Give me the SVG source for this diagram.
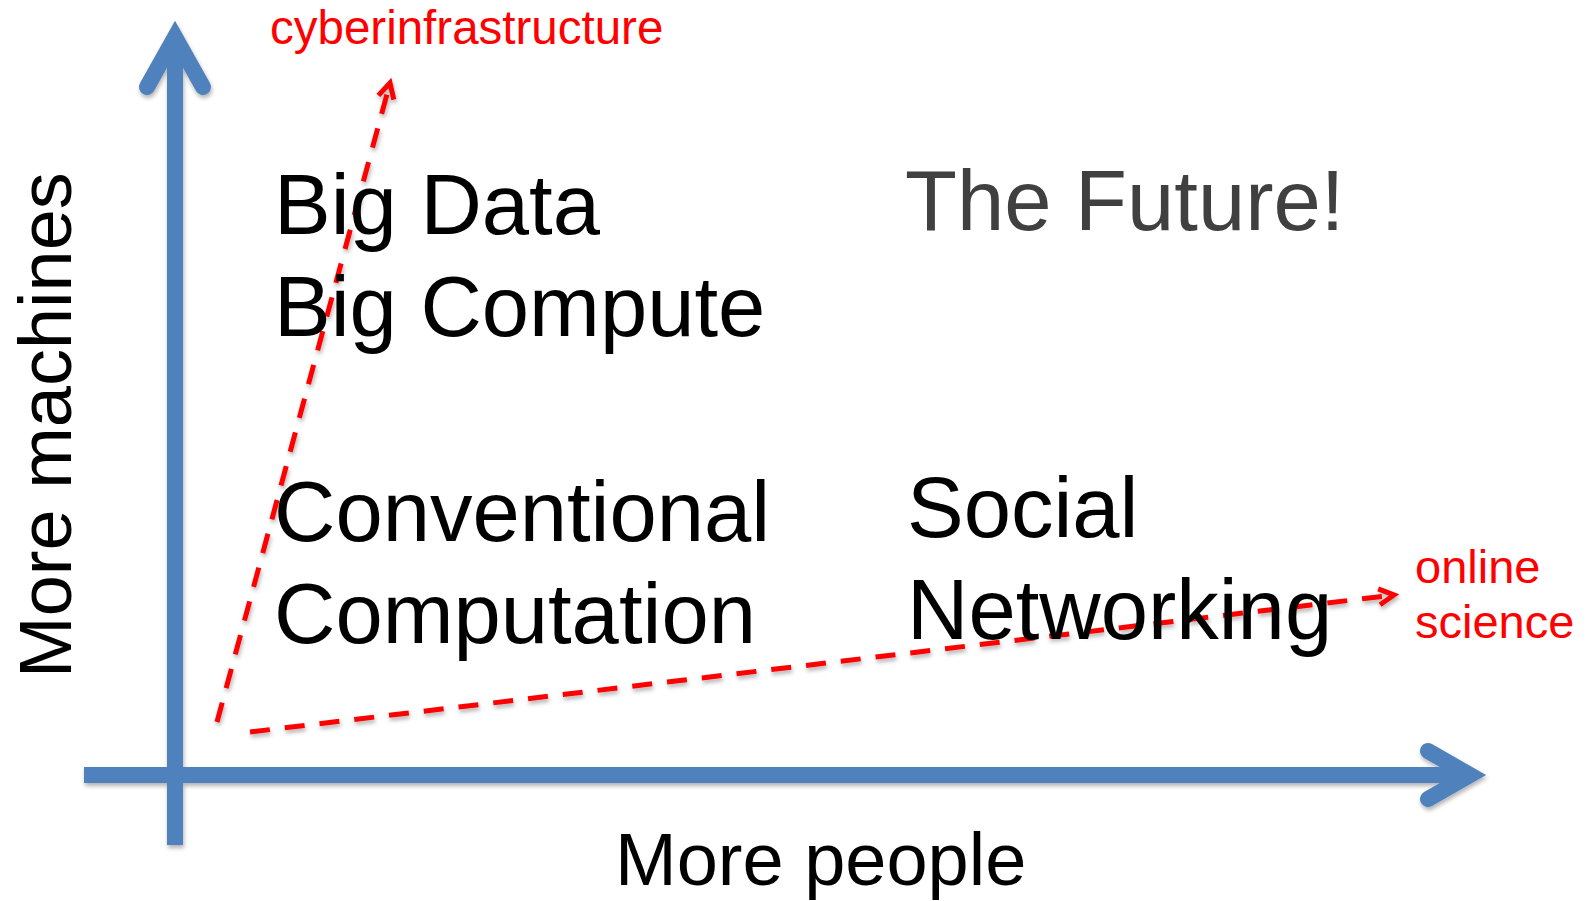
<svg xmlns="http://www.w3.org/2000/svg" width="1595" height="901" viewBox="0 0 1595 901">
<style>
.lbl{font-family:"Liberation Sans",Arial,sans-serif;font-size:85px;fill:#000}
.red{font-family:"Liberation Sans",Arial,sans-serif;font-size:47px;fill:#ff0000}
.axl{font-family:"Liberation Sans",Arial,sans-serif;font-size:74px;fill:#000}
.axis{stroke:#4f81bd;stroke-width:16;fill:none}
.head{stroke:#4f81bd;stroke-width:16;fill:none;stroke-linecap:round;stroke-linejoin:miter;stroke-miterlimit:10}
.dash{stroke:#ff0000;stroke-width:5;fill:none;stroke-dasharray:20 15;marker-end:url(#ra)}
</style>
<defs>
<filter id="sh" x="-10%" y="-10%" width="120%" height="130%">
<feDropShadow dx="1" dy="3" stdDeviation="2" flood-color="#000" flood-opacity="0.3"/>
</filter>
<marker id="ra" markerUnits="userSpaceOnUse" markerWidth="30" markerHeight="30" refX="0" refY="0" viewBox="-20 -15 30 30" orient="auto" overflow="visible">
<path d="M-15,-8 L0,0 L-15,8" fill="none" stroke="#ff0000" stroke-width="5"/>
</marker>
</defs>
<g id="connectors">
<g id="axes" filter="url(#sh)">
<path class="axis" d="M175,845 L175,40"/>
<path class="head" d="M147,87 L175,37 L203,87"/>
<path class="axis" d="M84,775 L1468,775"/>
<path class="head" d="M1428,751 L1470,775 L1428,799"/>
</g>
<g id="trends" filter="url(#sh)">
<path class="dash" d="M217,722 L390,83"/>
<path class="dash" d="M250,732 L1394,595"/>
</g>
</g>
<g id="node-cyber"><text class="red" x="270" y="44" style="font-size:47.5px">cyberinfrastructure</text></g>
<g id="node-online"><text class="red" x="1415" y="583">online</text><text class="red" x="1415" y="638">science</text></g>
<g id="node-bigdata"><text class="lbl" x="274" y="234">Big Data</text><text class="lbl" x="274" y="336">Big Compute</text></g>
<g id="node-future"><text class="lbl" x="905" y="230" style="fill:#404040">The Future!</text></g>
<g id="node-conventional"><text class="lbl" x="274" y="541">Conventional</text><text class="lbl" x="274" y="643">Computation</text></g>
<g id="node-social"><text class="lbl" x="907" y="537">Social</text><text class="lbl" x="907" y="639">Networking</text></g>
<g id="axis-x-label"><text class="axl" x="615" y="885">More people</text></g>
<g id="axis-y-label"><text class="axl" transform="translate(71,678) rotate(-90)">More machines</text></g>
</svg>
